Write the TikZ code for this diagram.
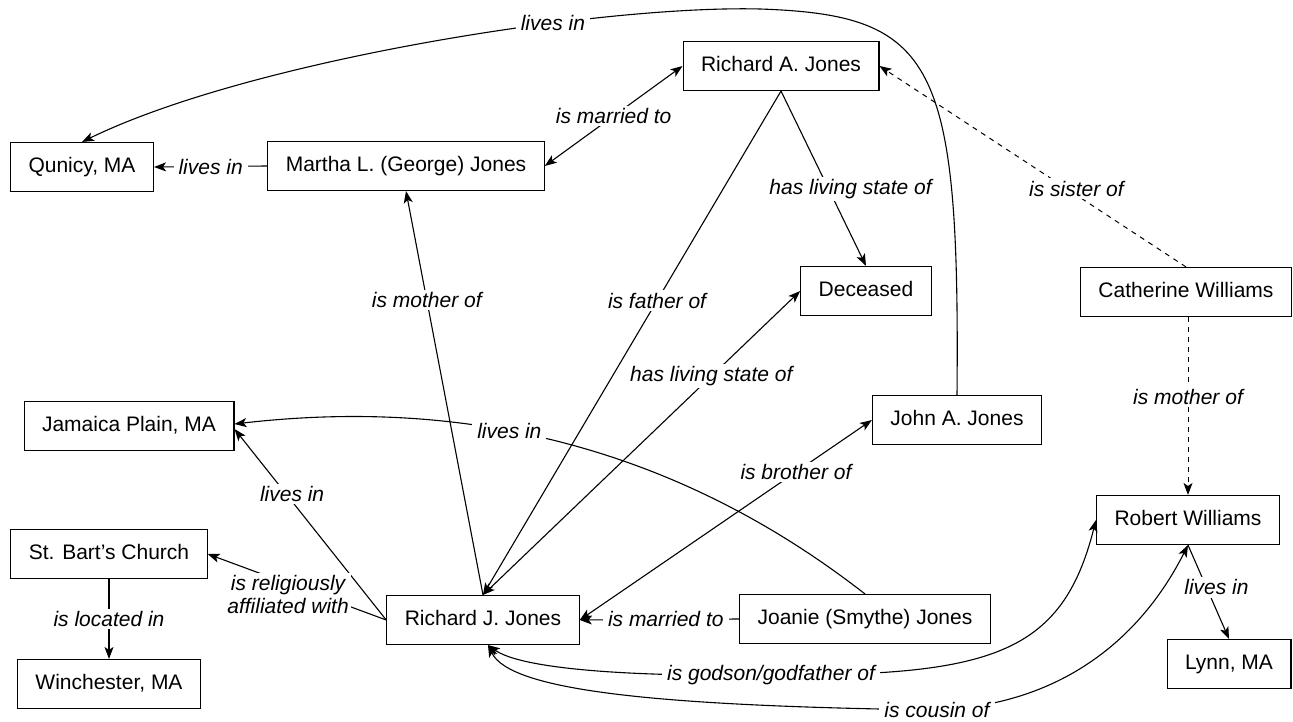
\documentclass[tikz,border=0pt]{standalone}
\usepackage{fontspec}
\setmainfont{Liberation Sans}
\usetikzlibrary{arrows.meta}
\begin{document}
\begin{tikzpicture}[x=1pt,y=-1pt,
  entity/.style={draw, line width=1.1pt, fill=white,
    font=\fontsize{21}{23}\selectfont,
    inner xsep=18pt, minimum height=49pt, text height=15pt, text depth=4pt},
  rel/.style={fill=white, inner xsep=5pt, inner ysep=2.5pt,
    font=\fontsize{21}{23}\selectfont\itshape},
  conn/.style={line width=1.1pt},
  fwd/.style={conn, -{Stealth[length=12pt,width=9pt,inset=3pt]}},
  both/.style={conn, {Stealth[length=12pt,width=9pt,inset=3pt]}-{Stealth[length=12pt,width=9pt,inset=3pt]}},
  dashedconn/.style={line width=1pt, dash pattern=on 5pt off 5pt}]

\useasboundingbox (0,0) rectangle (1293,722);

% people and places
\node[entity] (ra)  at (781,66)   {Richard A. Jones};
\node[entity] (q)   at (82,167)   {Qunicy, MA};
\node[entity] (m)   at (406,166)  {Martha L. (George) Jones};
\node[entity] (dec) at (866,291)  {Deceased};
\node[entity] (cw)  at (1186,292) {Catherine Williams};
\node[entity] (jp)  at (129,426)  {Jamaica Plain, MA};
\node[entity] (ja)  at (957,420)  {John A. Jones};
\node[entity] (rw)  at (1188,520) {Robert Williams};
\node[entity] (sb)  at (109,554)  {St. Bart’s Church};
\node[entity] (rj)  at (483,620)  {Richard J. Jones};
\node[entity] (js)  at (865,619)  {Joanie (Smythe) Jones};
\node[entity] (win) at (109,684)  {Winchester, MA};
\node[entity] (ly)  at (1229,664) {Lynn, MA};

% relations
\draw[fwd] (ja.north) .. controls (960,60) and (935,15) .. (760,9)
  .. controls (600,5) and (250,60) .. (q.north) node[rel,pos=.33] {lives in};
\draw[fwd] (m.west) -- node[rel] {lives in} (q.east);
\draw[both] (m.east) -- node[rel] {is married to} (ra.west);
\draw[fwd] (ra.south) -- node[rel,pos=.56,xshift=22pt] {has living state of} (dec.north);
\draw[fwd] (ra.south) -- node[rel,pos=.416] {is father of} (rj.north);
\draw[fwd] (rj.north) -- node[rel,pos=.73] {is mother of} (m.south);
\draw[both] (rj.north) -- node[rel,pos=.72] {has living state of} (dec.west);
\draw[both] (rj.east) -- node[rel,pos=.74] {is brother of} (ja.west);
\draw[fwd] (js.west) -- node[rel,pos=.46] {is married to} (rj.east);
\draw[fwd] (js.north) .. controls (643,421) and (417,403) .. ([yshift=2pt]jp.east)
  node[rel,pos=.54] {lives in};
\draw[fwd] (rj.west) -- node[rel,pos=.66,xshift=6pt] {lives in} ([yshift=-3pt]jp.east);
\draw[fwd] (rj.west) -- node[rel,inner xsep=2.5pt,pos=.55,yshift=-11pt,align=center]
  {is religiously\\affiliated with} (sb.east);
\draw[fwd] (sb.south) -- node[rel] {is located in} (win.north);
\draw[fwd,dashedconn] (cw.north) -- node[rel,pos=.39,xshift=10pt] {is sister of} (ra.east);
\draw[fwd,dashedconn] (cw.south -| rw.north) -- node[rel,pos=.45] {is mother of} (rw.north);
\draw[fwd] (rw.south) -- node[rel,pos=.45,xshift=10pt] {lives in} (ly.north);
\draw[both] ([xshift=5pt]rj.south) .. controls (520,668) and (620,677) .. (771,675)
  node[rel] {is godson/godfather of}
  .. controls (990,676) and (1062,655) .. (rw.west);
\draw[both] ([xshift=5pt]rj.south) .. controls (510,690) and (650,706) .. (937,710)
  node[rel] {is cousin of}
  .. controls (1060,705) and (1140,640) .. (rw.south);
\end{tikzpicture}
\end{document}
